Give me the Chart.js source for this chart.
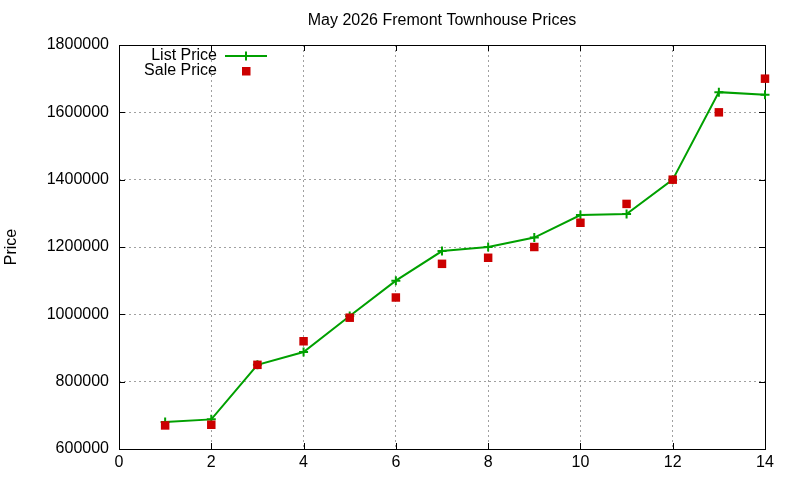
<!DOCTYPE html>
<html>
<head>
<meta charset="utf-8">
<title>May 2026 Fremont Townhouse Prices</title>
<script src="https://cdn.jsdelivr.net/npm/chart.js@4.4.1/dist/chart.umd.min.js"></script>
<style>
  html, body { margin: 0; padding: 0; background: #fff; }
  #wrap { width: 800px; height: 480px; position: relative; }
</style>
</head>
<body>
<div id="wrap"><canvas id="priceChart"></canvas></div>
<script>
// Data
const listings = [1, 2, 3, 4, 5, 6, 7, 8, 9, 10, 11, 12, 13, 14];
const listPrice = [680000, 688000, 850000, 888000, 995000, 1100000, 1188000, 1200000, 1228000, 1295000, 1298000, 1400000, 1660000, 1652000];
const salePrice = [670000, 672000, 850000, 920000, 990000, 1050000, 1150000, 1168000, 1200000, 1272000, 1328000, 1400000, 1600000, 1700000];
const xTicks = [0, 2, 4, 6, 8, 10, 12, 14];
const yTicks = [600000, 800000, 1000000, 1200000, 1400000, 1600000, 1800000];
const chartTitle = 'May 2026 Fremont Townhouse Prices';

const FONT = 'Liberation Sans, Arial, sans-serif';
const GREEN = '#00a000';
const RED = '#cc0000';

// Frame around the plot plus inward tic marks on all four sides
const framePlugin = {
  id: 'frame',
  beforeDatasetsDraw(chart) {
    const { ctx, chartArea: a, scales } = chart;
    const len = 6;
    ctx.save();
    ctx.strokeStyle = '#000';
    ctx.lineWidth = 1;
    ctx.beginPath();
    xTicks.forEach(function(t) {
      const px = Math.round(scales.x.getPixelForValue(t)) + 0.5;
      ctx.moveTo(px, a.bottom); ctx.lineTo(px, a.bottom - len);
      ctx.moveTo(px, a.top); ctx.lineTo(px, a.top + len);
    });
    yTicks.forEach(function(t) {
      const py = Math.round(scales.y.getPixelForValue(t)) + 0.5;
      ctx.moveTo(a.left, py); ctx.lineTo(a.left + len, py);
      ctx.moveTo(a.right, py); ctx.lineTo(a.right - len, py);
    });
    ctx.stroke();
    ctx.strokeRect(Math.round(a.left) + 0.5, Math.round(a.top) + 0.5,
      Math.round(a.right - a.left), Math.round(a.bottom - a.top));
    ctx.restore();
  }
};

// title centred over the plot area (gnuplot style) and the key in the upper left
const keyPlugin = {
  id: 'key',
  afterDraw(chart) {
    const { ctx, chartArea: a } = chart;
    ctx.save();
    ctx.font = '16px ' + FONT;
    ctx.fillStyle = '#000';
    ctx.textAlign = 'center';
    ctx.textBaseline = 'middle';
    ctx.fillText(chartTitle, (a.left + a.right) / 2, 21);

    const textRight = a.left + 98;
    const sampleX = a.left + 127;
    const rows = [a.top + 11, a.top + 26];
    ctx.textAlign = 'right';
    ctx.fillText(chart.data.datasets[0].label, textRight, rows[0]);
    ctx.fillText(chart.data.datasets[1].label, textRight, rows[1]);
    // list price sample: line with a plus
    ctx.strokeStyle = GREEN;
    ctx.lineWidth = 2;
    ctx.beginPath();
    ctx.moveTo(sampleX - 21, rows[0]); ctx.lineTo(sampleX + 21, rows[0]);
    ctx.moveTo(sampleX, rows[0] - 4.5); ctx.lineTo(sampleX, rows[0] + 4.5);
    ctx.stroke();
    // sale price sample: square
    ctx.fillStyle = RED;
    ctx.fillRect(sampleX - 4, rows[1] - 4, 8.5, 8.5);
    ctx.restore();
  }
};

new Chart(document.getElementById('priceChart').getContext('2d'), {
  type: 'line',
  data: {
    datasets: [{
      label: 'List Price',
      data: listings.map(function(x, i) { return { x: x, y: listPrice[i] }; }),
      borderColor: GREEN,
      backgroundColor: GREEN,
      borderWidth: 2,
      pointStyle: 'cross',
      pointRadius: 4.5,
      pointBorderWidth: 2,
      pointBorderColor: GREEN,
      tension: 0,
      clip: false,
      order: 2
    }, {
      label: 'Sale Price',
      data: listings.map(function(x, i) { return { x: x, y: salePrice[i] }; }),
      showLine: false,
      borderColor: RED,
      backgroundColor: RED,
      pointStyle: 'rect',
      pointRadius: 6,
      pointBorderWidth: 0,
      clip: false,
      order: 1
    }]
  },
  options: {
    responsive: true,
    maintainAspectRatio: false,
    animation: false,
    layout: { padding: { left: 0, right: 35, top: 45, bottom: 0 } },
    plugins: {
      legend: { display: false },
      tooltip: { enabled: false },
      title: { display: false }
    },
    scales: {
      x: {
        type: 'linear',
        min: 0,
        max: 14,
        afterBuildTicks: function(scale) {
          scale.ticks = xTicks.map(function(v) { return { value: v }; });
        },
        afterFit: function(scale) { scale.height = 31; },
        ticks: {
          color: '#000',
          padding: 4,
          maxRotation: 0,
          font: { family: FONT, size: 16 }
        },
        grid: { color: '#a0a0a0', drawTicks: false },
        border: { display: false, dash: [2, 3] }
      },
      y: {
        type: 'linear',
        min: 600000,
        max: 1800000,
        afterBuildTicks: function(scale) {
          scale.ticks = yTicks.map(function(v) { return { value: v }; });
        },
        afterFit: function(scale) { scale.width = 119; },
        ticks: {
          color: '#000',
          padding: 10,
          font: { family: FONT, size: 16 },
          callback: function(v) { return String(v); }
        },
        grid: { color: '#a0a0a0', drawTicks: false },
        border: { display: false, dash: [2, 3] },
        title: {
          display: true,
          text: 'Price',
          color: '#000',
          font: { family: FONT, size: 16 },
          padding: { top: 2, bottom: 0 }
        }
      }
    }
  },
  plugins: [framePlugin, keyPlugin]
});
</script>
</body>
</html>
